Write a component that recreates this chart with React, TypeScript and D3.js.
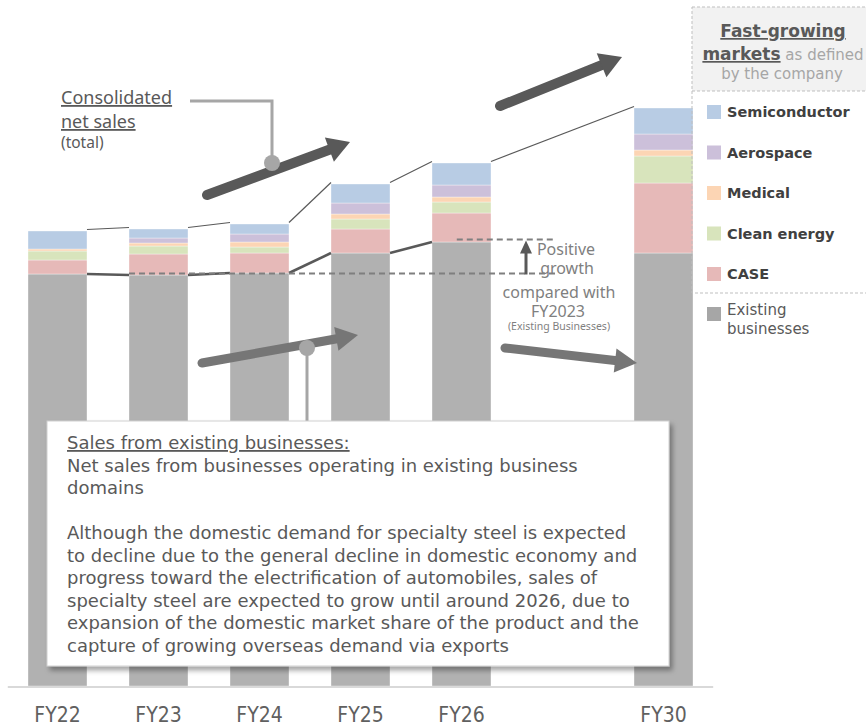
import React from "react";
import * as d3 from "d3";

// Fiscal years shown, plus the empty slot standing in for FY27–FY29
const years = ["FY22", "FY23", "FY24", "FY25", "FY26", "FY30"];
const slots = ["FY22", "FY23", "FY24", "FY25", "FY26", "FY27-29", "FY30"];

// Net sales by segment (index units)
const existing = [412, 411, 413, 433, 444, 433];
const caseMarket = [14, 21, 20, 24, 29, 70];
const cleanEnergy = [9, 8, 6, 10, 11, 27];
const medical = [2, 3, 5, 5, 5, 6];
const aerospace = [0, 5, 8, 11, 12, 16];
const semiconductor = [18, 9, 10, 19, 22, 26];

const seriesKeys = ["existing", "case", "clean", "medical", "aerospace", "semiconductor"];
const seriesLabels = ["Existing businesses", "CASE", "Clean energy", "Medical", "Aerospace", "Semiconductor"];
const seriesColors = ["#b1b1b1", "#e6b9b8", "#d8e4bc", "#fcd5b4", "#ccc0da", "#b8cce4"];

const boxLines = [
  "Net sales from businesses operating in existing business",
  "domains",
  "",
  "Although the domestic demand for specialty steel is expected",
  "to decline due to the general decline in domestic economy and",
  "progress toward the electrification of automobiles, sales of",
  "specialty steel are expected to grow until around 2026, due to",
  "expansion of the domestic market share of the product and the",
  "capture of growing overseas demand via exports",
];

const W = 866;
const H = 727;
const FONT = "'Noto Sans', sans-serif";
const FONT_V = "'DejaVu Sans', Verdana, sans-serif";
const FONT_C = "'DejaVu Sans Condensed', 'DejaVu Sans', sans-serif";

type Row = { year: string; [k: string]: number | string };

const rows: Row[] = years.map((year, i) => ({
  year,
  existing: existing[i],
  case: caseMarket[i],
  clean: cleanEnergy[i],
  medical: medical[i],
  aerospace: aerospace[i],
  semiconductor: semiconductor[i],
}));

function BigArrow(props: {
  x1: number; y1: number; x2: number; y2: number;
  width: number; head: number; headW: number; color: string;
}) {
  const { x1, y1, x2, y2, width, head, headW, color } = props;
  const a = Math.atan2(y2 - y1, x2 - x1);
  const c = Math.cos(a), s = Math.sin(a);
  const bx = x2 - head * c, by = y2 - head * s;
  const px = -s * headW / 2, py = c * headW / 2;
  return (
    <g>
      <line x1={x1} y1={y1} x2={bx + c * 2} y2={by + s * 2} stroke={color} strokeWidth={width} strokeLinecap="round" />
      <polygon points={`${x2},${y2} ${bx + px},${by + py} ${bx - px},${by - py}`} fill={color} />
    </g>
  );
}

export default function App() {
  const x = d3.scaleBand<string>().domain(slots).range([7.8, 713.2]).paddingInner(0.416).paddingOuter(0.2);
  const y = d3.scaleLinear().domain([0, 600]).range([686, 86]);
  const bw = x.bandwidth();

  const stacked = d3.stack<Row>().keys(seriesKeys)(rows as any);
  const totals = years.map((_, i) =>
    existing[i] + caseMarket[i] + cleanEnergy[i] + medical[i] + aerospace[i] + semiconductor[i]);

  const xl = (yr: string) => x(yr) as number;

  // baseline reference levels for the growth comparison
  const refFY23 = y(existing[1]) - 1.5;
  const refFY26 = y(existing[4]) - 2.5;
  const arrowX = 526;

  const legendItems = [5, 4, 3, 2, 1];

  return (
    <svg width={W} height={H} style={{ position: "absolute", left: 0, top: 0, background: "#fff" }}>
      <defs>
        <filter id="boxShadow" x="-10%" y="-10%" width="120%" height="120%">
          <feDropShadow dx="3" dy="4" stdDeviation="2.5" floodColor="#000" floodOpacity="0.35" />
        </filter>
      </defs>

      {/* stacked bars */}
      {stacked.map((layer, li) => (
        <g key={seriesKeys[li]} fill={seriesColors[li]}>
          {layer.map((d, i) => (
            <rect key={i} x={xl(years[i])} width={bw}
              y={y(d[1])} height={Math.max(0, y(d[0]) - y(d[1]))}
              stroke="#fff" strokeWidth={0.5} strokeOpacity={0.7} />
          ))}
        </g>
      ))}

      {/* total connectors */}
      {years.slice(0, -1).map((yr, i) => (
        <line key={"t" + i} x1={xl(yr) + bw} y1={y(totals[i]) - 1.5} x2={xl(years[i + 1])} y2={y(totals[i + 1]) - 1.5}
          stroke="#595959" strokeWidth={1.2} />
      ))}
      {/* existing-business connectors */}
      {years.slice(0, 4).map((yr, i) => (
        <line key={"e" + i} x1={xl(yr) + bw} y1={y(existing[i])} x2={xl(years[i + 1])} y2={y(existing[i + 1])}
          stroke="#595959" strokeWidth={2.5} />
      ))}

      {/* growth reference lines */}
      <line x1={xl("FY23")} x2={555} y1={refFY23} y2={refFY23} stroke="#7f7f7f" strokeWidth={2} strokeDasharray="6 4" />
      <line x1={xl("FY26") + bw * 0.42} x2={556} y1={refFY26} y2={refFY26} stroke="#7f7f7f" strokeWidth={2} strokeDasharray="6 4" />
      <line x1={arrowX} x2={arrowX} y1={refFY23 + 1} y2={refFY26 + 12} stroke="#595959" strokeWidth={3} />
      <polygon points={`${arrowX},${refFY26 + 1} ${arrowX - 6},${refFY26 + 14} ${arrowX + 6},${refFY26 + 14}`} fill="#595959" />

      <g fontFamily={FONT} fill="#7f7f7f" textAnchor="middle" fontSize={16}>
        <text x={566} y={255}>Positive</text>
        <text x={567} y={274}>growth</text>
        <text x={559} y={298}>compared with</text>
        <text x={558} y={317}>FY2023</text>
        <text x={559} y={330} fontSize={10.5}>(Existing Businesses)</text>
      </g>

      {/* axis */}
      <line x1={7.8} x2={713.2} y1={y(0) + 1} y2={y(0) + 1} stroke="#d9d9d9" strokeWidth={2} />
      <g fontFamily={FONT_C} fontSize={21} fill="#606060" textAnchor="middle">
        {years.map((yr) => (
          <text key={yr} x={xl(yr) + bw / 2} y={722}>{yr}</text>
        ))}
      </g>

      {/* consolidated net sales trend */}
      <BigArrow x1={207} y1={195} x2={350} y2={142} width={10} head={22} headW={26} color="#595959" />
      <BigArrow x1={500} y1={106} x2={622} y2={57} width={10} head={22} headW={26} color="#595959" />
      <polyline points="272,163 272,101 190,101" fill="none" stroke="#a6a6a6" strokeWidth={3} />
      <circle cx={272} cy={163} r={8} fill="#a6a6a6" />
      <g fontFamily={FONT} fill="#595959">
        <text x={61} y={104} fontSize={18} textDecoration="underline">Consolidated</text>
        <text x={61} y={128} fontSize={18} textDecoration="underline">net sales</text>
        <text x={61} y={148} fontSize={15.5}>(total)</text>
      </g>

      {/* existing business trend */}
      <BigArrow x1={202} y1={363} x2={358} y2={335} width={9} head={22} headW={24} color="#767676" />
      <BigArrow x1={505} y1={348} x2={637} y2={363} width={9} head={22} headW={24} color="#767676" />
      <line x1={307} x2={307} y1={348} y2={424} stroke="#a6a6a6" strokeWidth={3} />
      <circle cx={307} cy={348} r={8} fill="#a6a6a6" />

      {/* description box */}
      <rect x={47} y={421} width={622} height={245} fill="#fff" stroke="#d0d0d0" strokeWidth={1} filter="url(#boxShadow)" />
      <g fontFamily={FONT_V} fontSize={18} fill="#595959">
        <text x={67} y={449} textDecoration="underline">Sales from existing businesses:</text>
        {boxLines.map((ln, i) =>
          ln ? <text key={i} x={67} y={449 + (i + 1) * 22.5}>{ln}</text> : null
        )}
      </g>

      {/* legend */}
      <rect x={692} y={7} width={200} height={84} fill="#f2f2f2" />
      <rect x={692} y={7} width={200} height={286} fill="none" stroke="#bfbfbf" strokeWidth={1} strokeDasharray="3 2" />
      <line x1={692} x2={866} y1={91} y2={91} stroke="#bfbfbf" strokeWidth={1} strokeDasharray="3 2" />
      <g fontFamily={FONT_V} textAnchor="middle">
        <text x={783} y={37} fontSize={17} fontWeight="bold" fill="#595959" textDecoration="underline">Fast-growing</text>
        <text x={783} y={60} fontSize={17}>
          <tspan fontWeight="bold" fill="#595959" textDecoration="underline">markets</tspan>
          <tspan fill="#a6a6a6" fontSize={15}> as defined</tspan>
        </text>
        <text x={782} y={79} fontSize={15} fill="#a6a6a6">by the company</text>
      </g>
      <g fontFamily={FONT_V}>
        {legendItems.map((k, i) => (
          <g key={seriesKeys[k]}>
            <rect x={707} y={105 + i * 40.5} width={14} height={14} fill={seriesColors[k]} />
            <text x={727} y={117 + i * 40.5} fontSize={14.5} fontWeight="bold" fill="#404040">{seriesLabels[k]}</text>
          </g>
        ))}
        <rect x={707} y={307} width={14} height={14} fill="#a6a6a6" />
        <text x={727} y={315} fontSize={15} fill="#595959">Existing</text>
        <text x={727} y={334} fontSize={15} fill="#595959">businesses</text>
      </g>
    </svg>
  );
}
